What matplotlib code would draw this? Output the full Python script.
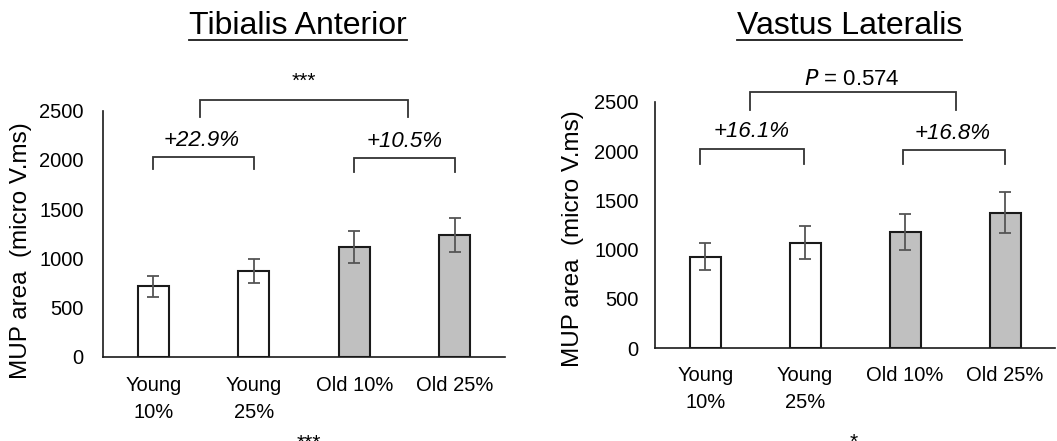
"""MUP area bar charts for two muscles at 10% and 25% contraction, young vs old."""

import matplotlib

matplotlib.use("Agg")
import matplotlib.pyplot as plt
import numpy as np
from matplotlib.lines import Line2D

plt.rcParams["font.family"] = ["Liberation Sans", "DejaVu Sans"]

groups = ["Young\n10%", "Young\n25%", "Old 10%", "Old 25%"]
bar_fill = ["white", "white", "#c0c0c0", "#c0c0c0"]

ta_mean = [715, 875, 1115, 1235]
ta_err = [105, 122, 160, 172]
vl_mean = [930, 1070, 1180, 1375]
vl_err = [140, 165, 185, 208]

ta_change = ["+22.9%", "+10.5%"]
vl_change = ["+16.1%", "+16.8%"]
ta_age_label = "***"
vl_age_label = r"$\it{P}$ = 0.574"

W, H = 1057, 441
fig = plt.figure(figsize=(W / 100, H / 100), dpi=100)


def px_axes(left, right, bottom, top):
    return fig.add_axes([left / W, 1 - bottom / H, (right - left) / W, (bottom - top) / H])


def bracket(ax, x0, x1, y_top, y_leg):
    ax.plot([x0, x0, x1, x1], [y_leg, y_top, y_top, y_leg], color="#333333",
            lw=1.3, clip_on=False, solid_joinstyle="miter")


def draw_panel(ax, means, errs, tick_pad, x_pad):
    x = np.arange(len(groups))
    ax.bar(x, means, width=0.31, color=bar_fill, edgecolor="#1a1a1a", linewidth=1.5, zorder=2)
    ax.errorbar(x, means, yerr=errs, fmt="none", ecolor="#555555", elinewidth=1.3,
                capsize=4, capthick=1.3, zorder=3)
    ax.set_xlim(-0.5, 3.5)
    ax.set_ylim(0, 2500)
    ax.set_yticks(range(0, 2501, 500))
    ax.set_xticks(x)
    ax.set_xticklabels(groups, fontsize=14.5, linespacing=1.5)
    ax.tick_params(axis="y", length=0, pad=tick_pad, labelsize=14.5)
    ax.tick_params(axis="x", length=0, pad=x_pad)
    for side in ("top", "right"):
        ax.spines[side].set_visible(False)
    for side in ("left", "bottom"):
        ax.spines[side].set_linewidth(1.2)
        ax.spines[side].set_color("#1a1a1a")


# Tibialis Anterior
ax1 = px_axes(103, 505, 356.7, 110.7)
draw_panel(ax1, ta_mean, ta_err, tick_pad=14, x_pad=14)
bracket(ax1, 0, 1, 2033, 1904)
bracket(ax1, 2, 3, 2016, 1880)
bracket(ax1, 0.47, 2.53, 2609, 2433)
ax1.text(0.48, 2202, ta_change[0], ha="center", va="center", fontsize=16, style="italic")
ax1.text(2.5, 2185, ta_change[1], ha="center", va="center", fontsize=16, style="italic")
ax1.text(1.5, 2795, ta_age_label, ha="center", va="center", fontsize=15)

# Vastus Lateralis
ax2 = px_axes(655.3, 1055, 348.3, 101.7)
draw_panel(ax2, vl_mean, vl_err, tick_pad=12, x_pad=13)
bracket(ax2, -0.05, 0.99, 2021, 1869)
bracket(ax2, 1.98, 3.0, 2011, 1869)
bracket(ax2, 0.45, 2.51, 2597, 2417)
ax2.text(0.46, 2197, vl_change[0], ha="center", va="center", fontsize=16, style="italic")
ax2.text(2.48, 2181, vl_change[1], ha="center", va="center", fontsize=16, style="italic")
ax2.text(1.47, 2721, vl_age_label, ha="center", va="center", fontsize=16)

ylab = "MUP area  (micro V.ms)"
fig.text(21 / W, 1 - 251 / H, ylab, rotation=90, ha="center", va="center", fontsize=17.5)
fig.text(573 / W, 1 - 239 / H, ylab, rotation=90, ha="center", va="center", fontsize=17.5)

# Underlined panel titles
titles = [("Tibialis Anterior", 297.7), ("Vastus Lateralis", 849.7)]
title_texts = []
for label, cx in titles:
    t = fig.text(cx / W, 1 - 34.5 / H, label, ha="center", va="baseline", fontsize=23)
    title_texts.append(t)

# Significance marks from the panel below, clipped by the figure edge
fig.text(309 / W, 1 - 434 / H, "***", ha="center", va="top", fontsize=15)
fig.text(854 / W, 1 - 433 / H, "*", ha="center", va="top", fontsize=15)

fig.canvas.draw()
renderer = fig.canvas.get_renderer()
for t in title_texts:
    bb = t.get_window_extent(renderer)
    y = 1 - 39.5 / H
    fig.add_artist(Line2D([bb.x0 / W, bb.x1 / W], [y, y], color="#1a1a1a", lw=1.3))

fig.savefig("out.png", dpi=100)
